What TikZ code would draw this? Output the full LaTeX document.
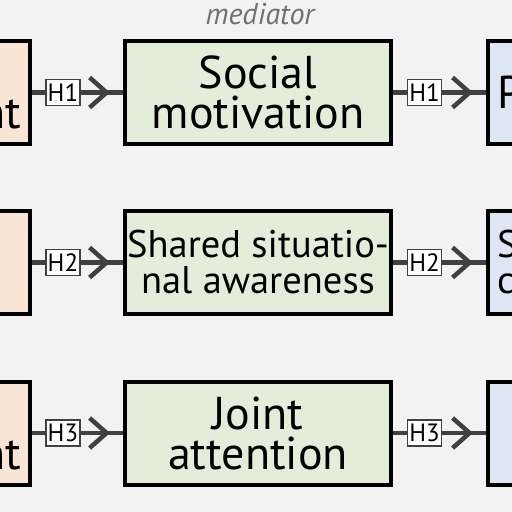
\documentclass[tikz,border=0pt]{standalone}
\usepackage{fontspec}
\setmainfont{PT Sans}
\usepackage{tikz}
\usetikzlibrary{arrows.meta, positioning, decorations.markings}
\definecolor{bggray}{RGB}{242,242,242}
\definecolor{ivpeach}{RGB}{248,229,214}
\definecolor{medgreen}{RGB}{228,236,218}
\definecolor{dvblue}{RGB}{221,230,242}
\definecolor{linkgray}{RGB}{64,64,64}
\definecolor{notegray}{RGB}{112,112,112}

\begin{document}
\begin{tikzpicture}[x=1pt, y=-1pt,
  box/.style={draw=black, line width=4pt, minimum height=103pt, inner sep=0pt,
    font=\fontsize{46}{40}\selectfont},
  smalltext/.style={font=\fontsize{38.5}{36}\selectfont},
  ivbox/.style={box, fill=ivpeach, minimum width=200pt, text width=182pt, align=right},
  medbox/.style={box, fill=medgreen, minimum width=266pt, align=center},
  dvbox/.style={box, fill=dvblue, minimum width=200pt, text width=182pt, align=left},
  link/.style={draw=linkgray, line width=4.5pt, postaction={decorate},
    decoration={markings, mark=at position -13pt with
      {\arrow[linkgray]{Straight Barb[length=17pt, width=30pt, line width=4.5pt]}}}},
  hlabel/.style={draw=linkgray, line width=1.5pt, fill=white, inner sep=0pt,
    minimum width=34pt, minimum height=26pt, font=\fontsize{25}{25}\selectfont, pos=0.34},
]
% 背景
\fill[bggray] (0,0) rectangle (512,512);
\useasboundingbox (0,0) rectangle (512,512);

% 見出し
\node[font=\fontsize{30}{30}\selectfont\itshape, text=notegray] (medtitle) at (260,14) {mediator};

% 行1
\node[ivbox] (iv1) at (-70,92.5) {\vphantom{S}\\nt};
\node[medbox] (med1) at (258,92.5) {Social\\motivation};
\node[dvbox] (dv1) at (588,92.5) {P};

% 行2
\node[ivbox] (iv2) at (-70,262.5) {};
\node[medbox, smalltext] (med2) at (258,262.5) {Shared situatio-\\nal awareness};
\node[dvbox, smalltext] (dv2) at (588,262.5) {S\\c};

% 行3
\node[ivbox] (iv3) at (-70,433) {\vphantom{S}\\nt};
\node[medbox] (med3) at (258,433) {Joint\\attention};
\node[dvbox] (dv3) at (588,433) {};

% 矢印
\foreach \r in {1,2,3} {
  \draw[link] (iv\r) -- node[hlabel] {H\r} (med\r);
  \draw[link] (med\r) -- node[hlabel] {H\r} (dv\r);
}
\end{tikzpicture}
\end{document}
